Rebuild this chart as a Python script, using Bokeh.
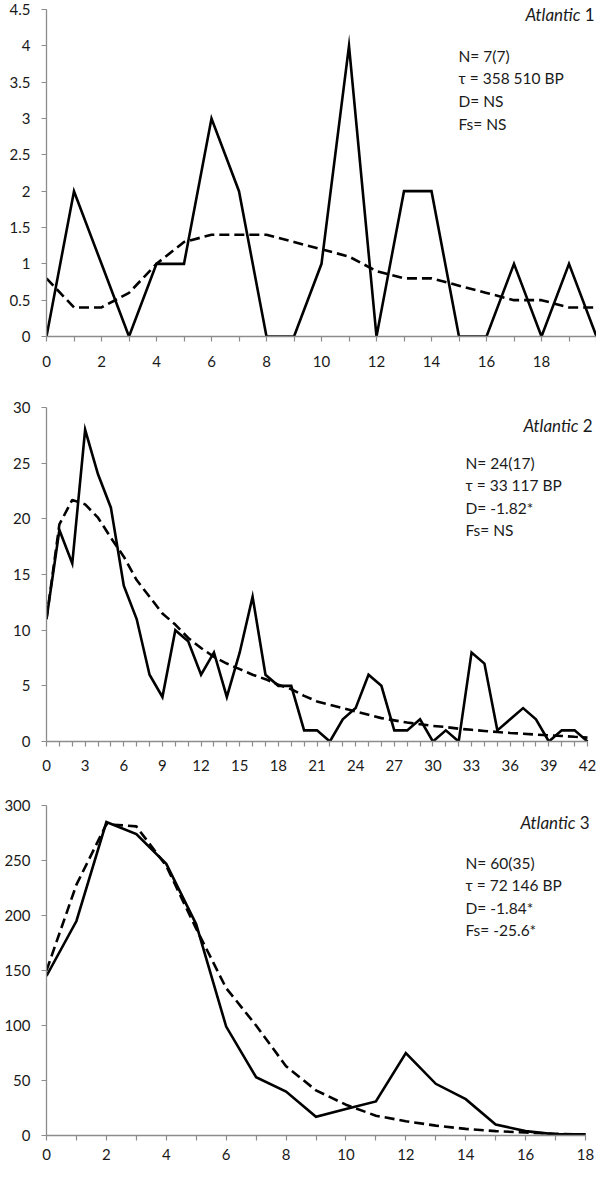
from bokeh.plotting import figure
from bokeh.layouts import column
from bokeh.models import Range1d, FixedTicker, Label
from bokeh.embed import file_html
from bokeh.resources import INLINE

# ---------------- data ----------------
p1_x = list(range(21))
p1_obs = [0, 2, 1, 0, 1, 1, 3, 2, 0, 0, 1, 4, 0, 2, 2, 0, 0, 1, 0, 1, 0]
p1_exp = [0.8, 0.4, 0.4, 0.6, 1.0, 1.3, 1.4, 1.4, 1.4, 1.3, 1.2, 1.1, 0.9, 0.8, 0.8,
          0.7, 0.6, 0.5, 0.5, 0.4, 0.4]
p1_xlabels = [0, 2, 4, 6, 8, 10, 12, 14, 16, 18]
p1_yticks = [0, 0.5, 1, 1.5, 2, 2.5, 3, 3.5, 4, 4.5]
p1_title = ("Atlantic", "1")
p1_stats = ["N= 7(7)", " \u03c4 = 358 510 BP", "D= NS", "Fs= NS"]

p2_x = list(range(43))
p2_obs = [11, 19, 16, 28, 24, 21, 14, 11, 6, 4, 10, 9, 6, 8, 4, 8, 13, 6, 5, 5, 1, 1,
          0, 2, 3, 6, 5, 1, 1, 2, 0, 1, 0, 8, 7, 1, 2, 3, 2, 0, 1, 1, 0]
p2_exp = [11, 19.5, 21.7, 21.3, 20.1, 18.3, 16.6, 14.5, 13.0, 11.5, 10.5, 9.3, 8.4,
          7.6, 7.0, 6.5, 6.0, 5.6, 5.1, 4.7, 4.1, 3.6, 3.3, 3.0, 2.7, 2.4, 2.1, 1.9,
          1.7, 1.55, 1.4, 1.3, 1.15, 1.05, 0.95, 0.85, 0.77, 0.7, 0.62, 0.55, 0.5,
          0.42, 0.35]
p2_xlabels = list(range(0, 43, 3))
p2_yticks = [0, 5, 10, 15, 20, 25, 30]
p2_title = ("Atlantic", "2")
p2_stats = ["N= 24(17)", " \u03c4 = 33 117 BP", "D= -1.82*", "Fs= NS"]

p3_x = list(range(19))
p3_obs = [145, 195, 285, 274, 247, 192, 99, 53, 40, 17, 24, 31, 75, 47, 33, 10, 4, 1, 1]
p3_exp = [150, 228, 283, 281, 245, 188, 134, 100, 63, 41, 28, 18, 13, 9, 6, 4, 2.7,
          1.5, 1]
p3_xlabels = list(range(0, 19, 2))
p3_yticks = [0, 50, 100, 150, 200, 250, 300]
p3_title = ("Atlantic", "3")
p3_stats = ["N= 60(35)", " \u03c4 = 72 146 BP", "D= -1.84*", "Fs= -25.6*"]

FONT = "Lato"
AXIS_GREY = "#8c8c8c"
TEXT = "#1a1a1a"


def fmt(v):
    return str(int(v)) if float(v).is_integer() else str(v)


def panel(x, obs, exp, xmax, ymax, xlabels, yticks, title, stats,
          left, axis_w, frame_w, top_off, axis_h, bottom,
          title_dy, title_right_px, stats_left_px, stats_dy, stats_step,
          standoff):
    frame_h = top_off + axis_h
    x_end = xmax * frame_w / axis_w
    y_end = ymax * frame_h / axis_h
    p = figure(width=left + frame_w, height=frame_h + bottom,
               frame_width=frame_w, frame_height=frame_h,
               x_range=Range1d(0, x_end), y_range=Range1d(0, y_end),
               output_backend="svg", toolbar_location=None,
               min_border_left=left, min_border_right=0,
               min_border_top=0, min_border_bottom=bottom)
    p.outline_line_color = None
    p.xgrid.visible = False
    p.ygrid.visible = False
    p.background_fill_color = "white"
    p.border_fill_color = "white"

    p.line(x, obs, line_color="black", line_width=2.6, line_join="miter")
    p.line(x, exp, line_color="black", line_width=2.6, line_dash="10 5")

    # axes
    xt = list(range(0, xmax + 1))
    p.xaxis.ticker = FixedTicker(ticks=xt)
    p.xaxis.major_label_overrides = {t: (str(t) if t in xlabels else "") for t in xt}
    p.xaxis.bounds = (0, xmax)
    p.yaxis.ticker = FixedTicker(ticks=yticks)
    p.yaxis.major_label_overrides = {t: fmt(t) for t in yticks}
    p.yaxis.bounds = (0, ymax)
    for ax in (p.xaxis, p.yaxis):
        ax.axis_line_color = AXIS_GREY
        ax.axis_line_width = 1.3
        ax.major_tick_line_color = AXIS_GREY
        ax.major_tick_line_width = 1.2
        ax.major_tick_out = 5
        ax.major_tick_in = 0
        ax.minor_tick_line_color = None
        ax.major_label_text_font = FONT
        ax.major_label_text_font_size = "15px"
        ax.major_label_text_color = TEXT
    p.xaxis.major_label_standoff = standoff
    p.yaxis.major_label_standoff = 11

    # text annotations, placed via pixel offsets converted to data coordinates
    ux = xmax / axis_w
    uy = ymax / axis_h
    xr = title_right_px * ux
    yt = ymax - title_dy * uy
    p.add_layout(Label(x=xr, y=yt, text=title[1], text_align="right",
                       text_baseline="middle", text_font=FONT,
                       text_font_size="17px", text_color=TEXT))
    p.add_layout(Label(x=xr, y=yt, x_offset=-14, text=title[0], text_align="right",
                       text_baseline="middle", text_font=FONT,
                       text_font_style="italic",
                       text_font_size="17px", text_color=TEXT))
    xs = stats_left_px * ux
    for i, s in enumerate(stats):
        p.add_layout(Label(x=xs, y=ymax - (stats_dy + i * stats_step) * uy,
                           text=s, text_align="left", text_baseline="middle",
                           text_font=FONT, text_font_size="15.5px",
                           text_color=TEXT))
    return p


f1 = panel(p1_x, p1_obs, p1_exp, 20, 4.5, p1_xlabels, p1_yticks, p1_title, p1_stats,
           left=42, axis_w=550, frame_w=554, top_off=9, axis_h=327, bottom=40,
           title_dy=5, title_right_px=548, stats_left_px=412, stats_dy=46,
           stats_step=22.7, standoff=14)
f2 = panel(p2_x, p2_obs, p2_exp, 42, 30, p2_xlabels, p2_yticks, p2_title, p2_stats,
           left=46, axis_w=541, frame_w=550, top_off=31, axis_h=334, bottom=36,
           title_dy=18, title_right_px=546, stats_left_px=419, stats_dy=55,
           stats_step=22.5, standoff=13)
f3 = panel(p3_x, p3_obs, p3_exp, 18, 300, p3_xlabels, p3_yticks, p3_title, p3_stats,
           left=45, axis_w=539, frame_w=551, top_off=28, axis_h=330, bottom=31,
           title_dy=17, title_right_px=543, stats_left_px=419, stats_dy=57,
           stats_step=22.5, standoff=8)

layout = column(f1, f2, f3, spacing=0)
open("out.html", "w").write(file_html(layout, INLINE))
